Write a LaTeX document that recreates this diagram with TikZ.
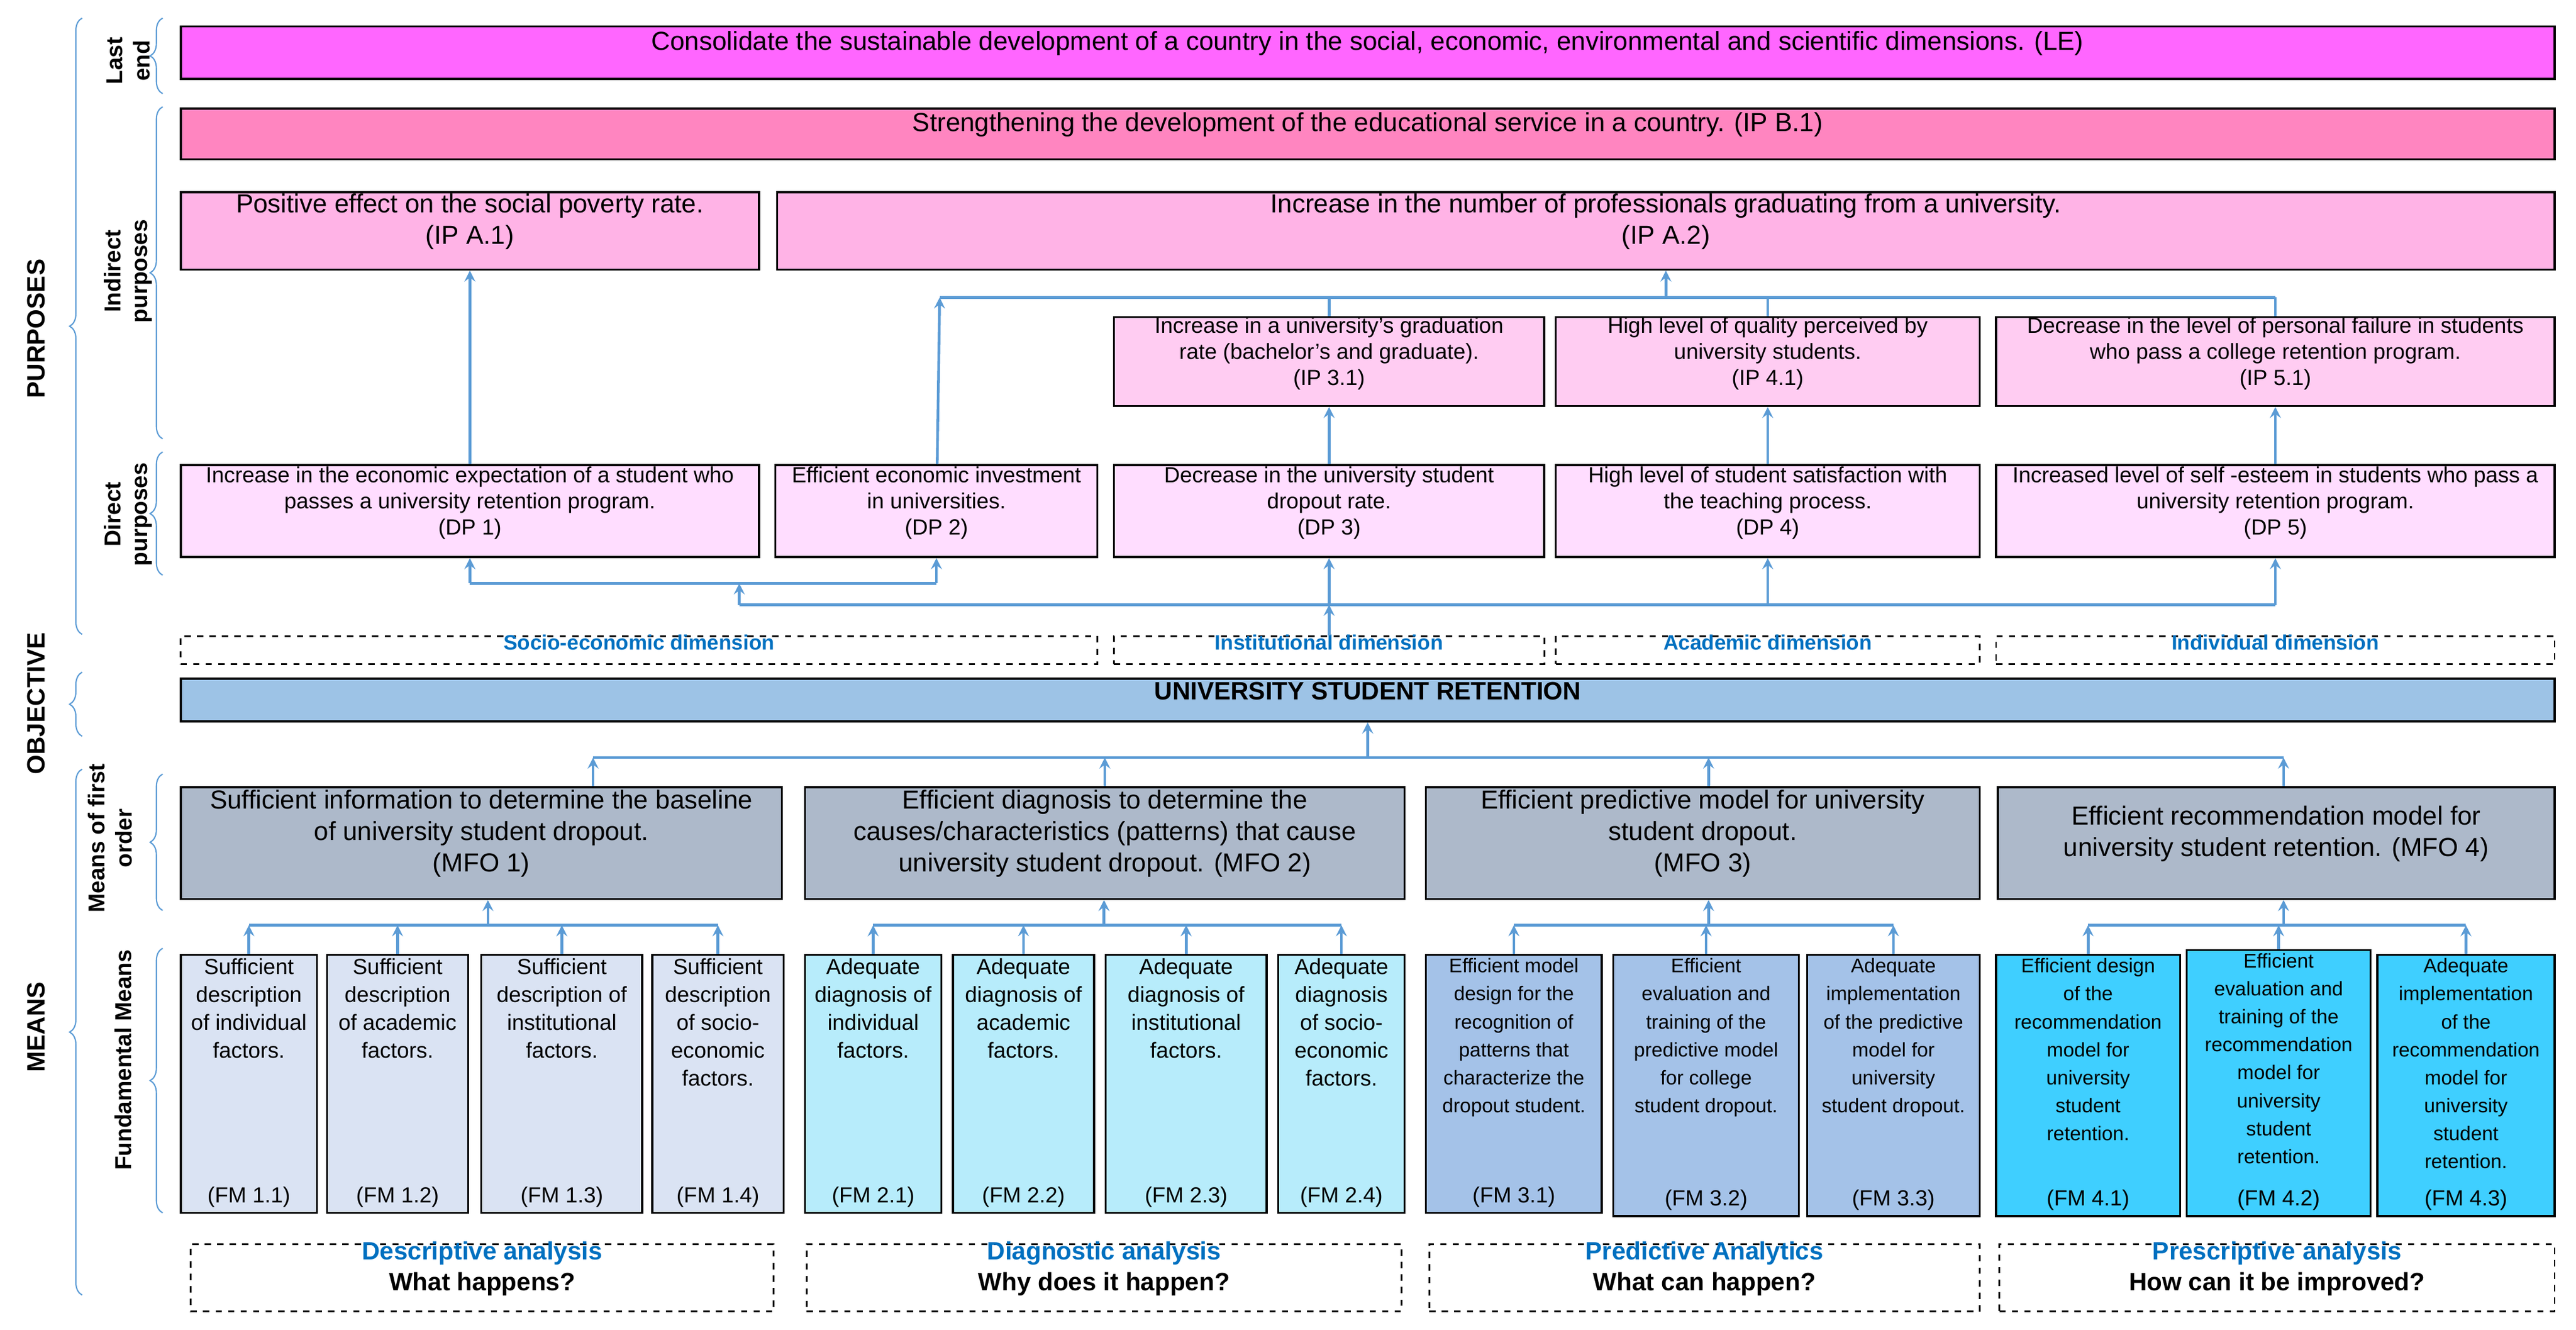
\documentclass[tikz,border=0pt]{standalone}
\usepackage{fontspec}
\setmainfont{Liberation Sans}
\usetikzlibrary{arrows,fit,decorations.pathreplacing}

\definecolor{lastend}{HTML}{FF66FF}
\definecolor{ipb}{HTML}{FF85C0}
\definecolor{ipa}{HTML}{FFB3E6}
\definecolor{ipn}{HTML}{FFCCF2}
\definecolor{dpc}{HTML}{FFDDFF}
\definecolor{objc}{HTML}{9DC3E6}
\definecolor{mfoc}{HTML}{ADB9CA}
\definecolor{fma}{HTML}{DAE3F3}
\definecolor{fmb}{HTML}{B7ECFB}
\definecolor{fmc}{HTML}{A4C2E8}
\definecolor{fmd}{HTML}{3FCFFF}
\definecolor{arrc}{HTML}{5B9BD5}
\definecolor{dimc}{HTML}{0070C0}

\tikzset{
box/.style={draw, line width=1pt, inner sep=0pt, align=center},
big/.style={font=\fontsize{12.5}{15}\selectfont},
small/.style={font=\fontsize{10.5}{12.5}\selectfont},
fmtext/.style={align=center, anchor=north, font=\fontsize{10.5}{13.4}\selectfont, inner sep=2pt},
fmnarrow/.style={fmtext, font=\fontsize{9.5}{13.4}\selectfont},
fmcode/.style={anchor=south, font=\fontsize{10.5}{12}\selectfont, inner sep=3pt},
dimbox/.style={draw, dashed, line width=0.8pt, inner sep=0pt, text=dimc,
  font=\bfseries\fontsize{10}{12}\selectfont},
anbox/.style={draw, dashed, line width=0.8pt, inner sep=0pt, align=center,
  font=\bfseries\fontsize{12}{15}\selectfont},
arr/.style={->, >=stealth, draw=arrc, line width=1.3pt},
conn/.style={draw=arrc, line width=1.3pt},
brc/.style={draw=arrc, line width=0.6pt, decorate, decoration={brace, amplitude=6pt}},
sidelab/.style={rotate=90, align=center, font=\bfseries\fontsize{11}{13}\selectfont},
mainlab/.style={rotate=90, font=\bfseries\fontsize{12}{14}\selectfont}
}

\begin{document}
\begin{tikzpicture}[x=0.0277cm, y=-0.0277cm]
\useasboundingbox (0,0) rectangle (1568,809);

% purposes
\node (le) [box, big, fill=lastend, fit={(110,16) (1555,48)}]
{Consolidate the sustainable development of a country in the social, economic, environmental and scientific dimensions. (LE)};
\node (ipb1) [box, big, fill=ipb, fit={(110,66) (1555,97)}]
{Strengthening the development of the educational service in a country. (IP B.1)};
\node (ipa1) [box, big, fill=ipa, fit={(110,117) (462,164)}]
{Positive effect on the social poverty rate.\\(IP A.1)};
\node (ipa2) [box, big, fill=ipa, fit={(473,117) (1555,164)}]
{Increase in the number of professionals graduating from a university.\\(IP A.2)};
\node (ip31) [box, small, fill=ipn, fit={(678,193) (940,247)}]
{Increase in a university's graduation\\rate (bachelor's and graduate).\\(IP 3.1)};
\node (ip41) [box, small, fill=ipn, fit={(947,193) (1205,247)}]
{High level of quality perceived by\\university students.\\(IP 4.1)};
\node (ip51) [box, small, fill=ipn, fit={(1215,193) (1555,247)}]
{Decrease in the level of personal failure in students\\who pass a college retention program.\\(IP 5.1)};

\node (dp1) [box, small, fill=dpc, fit={(110,283) (462,339)}]
{Increase in the economic expectation of a student who\\passes a university retention program.\\(DP 1)};
\node (dp2) [box, small, fill=dpc, fit={(472,283) (668,339)}]
{Efficient economic investment\\in universities.\\(DP 2)};
\node (dp3) [box, small, fill=dpc, fit={(678,283) (940,339)}]
{Decrease in the university student\\dropout rate.\\(DP 3)};
\node (dp4) [box, small, fill=dpc, fit={(947,283) (1205,339)}]
{High level of student satisfaction with\\the teaching process.\\(DP 4)};
\node (dp5) [box, small, fill=dpc, fit={(1215,283) (1555,339)}]
{Increased level of self -esteem in students who pass a\\university retention program.\\(DP 5)};

% dimensions and objective
\node (dimse) [dimbox, fit={(110,387) (668,404)}] {Socio-economic dimension};
\node (dimin) [dimbox, fit={(678,387) (940,404)}] {Institutional dimension};
\node (dimac) [dimbox, fit={(947,387) (1205,404)}] {Academic dimension};
\node (dimid) [dimbox, fit={(1215,387) (1555,404)}] {Individual dimension};
\node (obj) [box, fill=objc, font=\bfseries\fontsize{12}{14}\selectfont, fit={(110,413) (1555,439)}]
{UNIVERSITY STUDENT RETENTION};

% means of first order
\node (mfo1) [box, big, fill=mfoc, fit={(110,479) (476,547)}]
{Sufficient information to determine the baseline\\of university student dropout.\\(MFO 1)};
\node (mfo2) [box, big, fill=mfoc, fit={(490,479) (855,547)}]
{Efficient diagnosis to determine the\\causes/characteristics (patterns) that cause\\university student dropout. (MFO 2)};
\node (mfo3) [box, big, fill=mfoc, fit={(868,479) (1205,547)}]
{Efficient predictive model for university\\student dropout.\\(MFO 3)};
\node (mfo4) [box, big, fill=mfoc, fit={(1216,479) (1555,547)}]
{Efficient recommendation model for\\university student retention. (MFO 4)};

% fundamental means
\node (fm11) [box, fill=fma, fit={(110,581) (193,738)}] {};
\node (fm12) [box, fill=fma, fit={(199,581) (285,738)}] {};
\node (fm13) [box, fill=fma, fit={(293,581) (391,738)}] {};
\node (fm14) [box, fill=fma, fit={(397,581) (477,738)}] {};
\node (fm21) [box, fill=fmb, fit={(490,581) (573,738)}] {};
\node (fm22) [box, fill=fmb, fit={(580,581) (666,738)}] {};
\node (fm23) [box, fill=fmb, fit={(673,581) (771,738)}] {};
\node (fm24) [box, fill=fmb, fit={(778,581) (855,738)}] {};
\node (fm31) [box, fill=fmc, fit={(868,581) (975,738)}] {};
\node (fm32) [box, fill=fmc, fit={(982,581) (1095,740)}] {};
\node (fm33) [box, fill=fmc, fit={(1100,581) (1205,740)}] {};
\node (fm41) [box, fill=fmd, fit={(1215,581) (1327,740)}] {};
\node (fm42) [box, fill=fmd, fit={(1331,578) (1443,740)}] {};
\node (fm43) [box, fill=fmd, fit={(1447,581) (1555,740)}] {};

\node [fmtext] at (fm11.north) {Sufficient\\description\\of individual\\factors.};
\node [fmtext] at (fm12.north) {Sufficient\\description\\of academic\\factors.};
\node [fmtext] at (fm13.north) {Sufficient\\description of\\institutional\\factors.};
\node [fmtext] at (fm14.north) {Sufficient\\description\\of socio-\\economic\\factors.};
\node [fmtext] at (fm21.north) {Adequate\\diagnosis of\\individual\\factors.};
\node [fmtext] at (fm22.north) {Adequate\\diagnosis of\\academic\\factors.};
\node [fmtext] at (fm23.north) {Adequate\\diagnosis of\\institutional\\factors.};
\node [fmtext] at (fm24.north) {Adequate\\diagnosis\\of socio-\\economic\\factors.};
\node [fmnarrow] at (fm31.north) {Efficient model\\design for the\\recognition of\\patterns that\\characterize the\\dropout student.};
\node [fmnarrow] at (fm32.north) {Efficient\\evaluation and\\training of the\\predictive model\\for college\\student dropout.};
\node [fmnarrow] at (fm33.north) {Adequate\\implementation\\of the predictive\\model for\\university\\student dropout.};
\node [fmnarrow] at (fm41.north) {Efficient design\\of the\\recommendation\\model for\\university\\student\\retention.};
\node [fmnarrow] at (fm42.north) {Efficient\\evaluation and\\training of the\\recommendation\\model for\\university\\student\\retention.};
\node [fmnarrow] at (fm43.north) {Adequate\\implementation\\of the\\recommendation\\model for\\university\\student\\retention.};

\foreach \n/\t in {fm11/1.1,fm12/1.2,fm13/1.3,fm14/1.4,fm21/2.1,fm22/2.2,fm23/2.3,fm24/2.4,
  fm31/3.1,fm32/3.2,fm33/3.3,fm41/4.1,fm42/4.2,fm43/4.3}
  \node [fmcode] at (\n.south) {(FM \t)};

% analysis boxes
\node (desc) [anbox, fit={(116,757) (471,798)}] {\textcolor{dimc}{Descriptive analysis}\\What happens?};
\node (diag) [anbox, fit={(491,757) (853,798)}] {\textcolor{dimc}{Diagnostic analysis}\\Why does it happen?};
\node (pred) [anbox, fit={(870,757) (1205,798)}] {\textcolor{dimc}{Predictive Analytics}\\What can happen?};
\node (pres) [anbox, fit={(1217,757) (1555,798)}] {\textcolor{dimc}{Prescriptive analysis}\\How can it be improved?};

% connectors, purposes
\coordinate (hA) at (572,181);
\coordinate (hB) at (1385,181);
\coordinate (lA) at (286,355);
\coordinate (lB) at (450,368);
\coordinate (lC) at (1385,368);
\draw[arr] (dp1) -- (ipa1);
\draw[arr] (dp2) -- (hA);
\draw[conn] (hA) -- (hB);
\draw[conn] (hB) -- (ip51.north);
\draw[conn] (ip31.north |- hA) -- (ip31.north);
\draw[conn] (ip41.north |- hA) -- (ip41.north);
\draw[arr] (ipa2.south |- hA) -- (ipa2.south);
\draw[arr] (dp3) -- (ip31);
\draw[arr] (dp4) -- (ip41);
\draw[arr] (dp5) -- (ip51);
\draw[conn] (lA) -- (dp2.south |- lA);
\draw[arr] (lA) -- (dp1.south);
\draw[arr] (dp2.south |- lA) -- (dp2.south);
\draw[arr] (lB) -- (lB |- lA);
\draw[conn] (lB) -- (lC);
\draw[arr] (dp3.south |- lC) -- (dp3.south);
\draw[arr] (dp4.south |- lC) -- (dp4.south);
\draw[arr] (lC) -- (dp5.south);
\draw[arr] (dimin.north) -- (dimin.north |- lC);

% connectors, means
\coordinate (m1) at (361,461);
\coordinate (m4) at (1390,461);
\draw[conn] (m1) -- (m4);
\draw[arr] (mfo1.north -| m1) -- (m1);
\draw[arr] (mfo2.north) -- (mfo2.north |- m1);
\draw[arr] (mfo3.north -| 1040,0) -- (1040,461);
\draw[arr] (mfo4.north -| m4) -- (m4);
\draw[arr] (obj.south |- m1) -- (obj.south);

\coordinate (g1) at (297,563);
\coordinate (g2) at (672,563);
\coordinate (g3) at (1040,563);
\coordinate (g4) at (1390,563);
\draw[conn] (fm11.north |- g1) -- (fm14.north |- g1);
\draw[conn] (fm21.north |- g2) -- (fm24.north |- g2);
\draw[conn] (fm31.north |- g3) -- (fm33.north |- g3);
\draw[conn] (fm41.north |- g4) -- (fm43.north |- g4);
\foreach \n/\g in {fm11/g1,fm12/g1,fm13/g1,fm14/g1,fm21/g2,fm22/g2,fm23/g2,fm24/g2,
  fm31/g3,fm32/g3,fm33/g3,fm41/g4,fm42/g4,fm43/g4}
  \draw[arr] (\n.north) -- (\n.north |- \g);
\draw[arr] (g1) -- (mfo1.south -| g1);
\draw[arr] (g2) -- (mfo2.south -| g2);
\draw[arr] (g3) -- (mfo3.south -| g3);
\draw[arr] (g4) -- (mfo4.south -| g4);

% side labels and braces
\node (lpur) [mainlab] at (22,200) {PURPOSES};
\node (lobj) [mainlab] at (22,428) {OBJECTIVE};
\node (lmea) [mainlab] at (22,625) {MEANS};
\node (lle) [sidelab] at (78,37) {Last\\end};
\node (lip) [sidelab] at (78,165) {Indirect\\purposes};
\node (ldp) [sidelab] at (78,313) {Direct\\purposes};
\node (lmfo) [sidelab] at (67,510) {Means of first\\order};
\node (lfm) [sidelab] at (75,645) {Fundamental Means};
\draw[brc] (50,386) -- (50,11);
\draw[brc] (50,448) -- (50,409);
\draw[brc] (50,788) -- (50,468);
\draw[brc] (99,57) -- (99,11);
\draw[brc] (99,267) -- (99,65);
\draw[brc] (99,350) -- (99,275);
\draw[brc] (99,554) -- (99,471);
\draw[brc] (99,738) -- (99,577);
\end{tikzpicture}
\end{document}
